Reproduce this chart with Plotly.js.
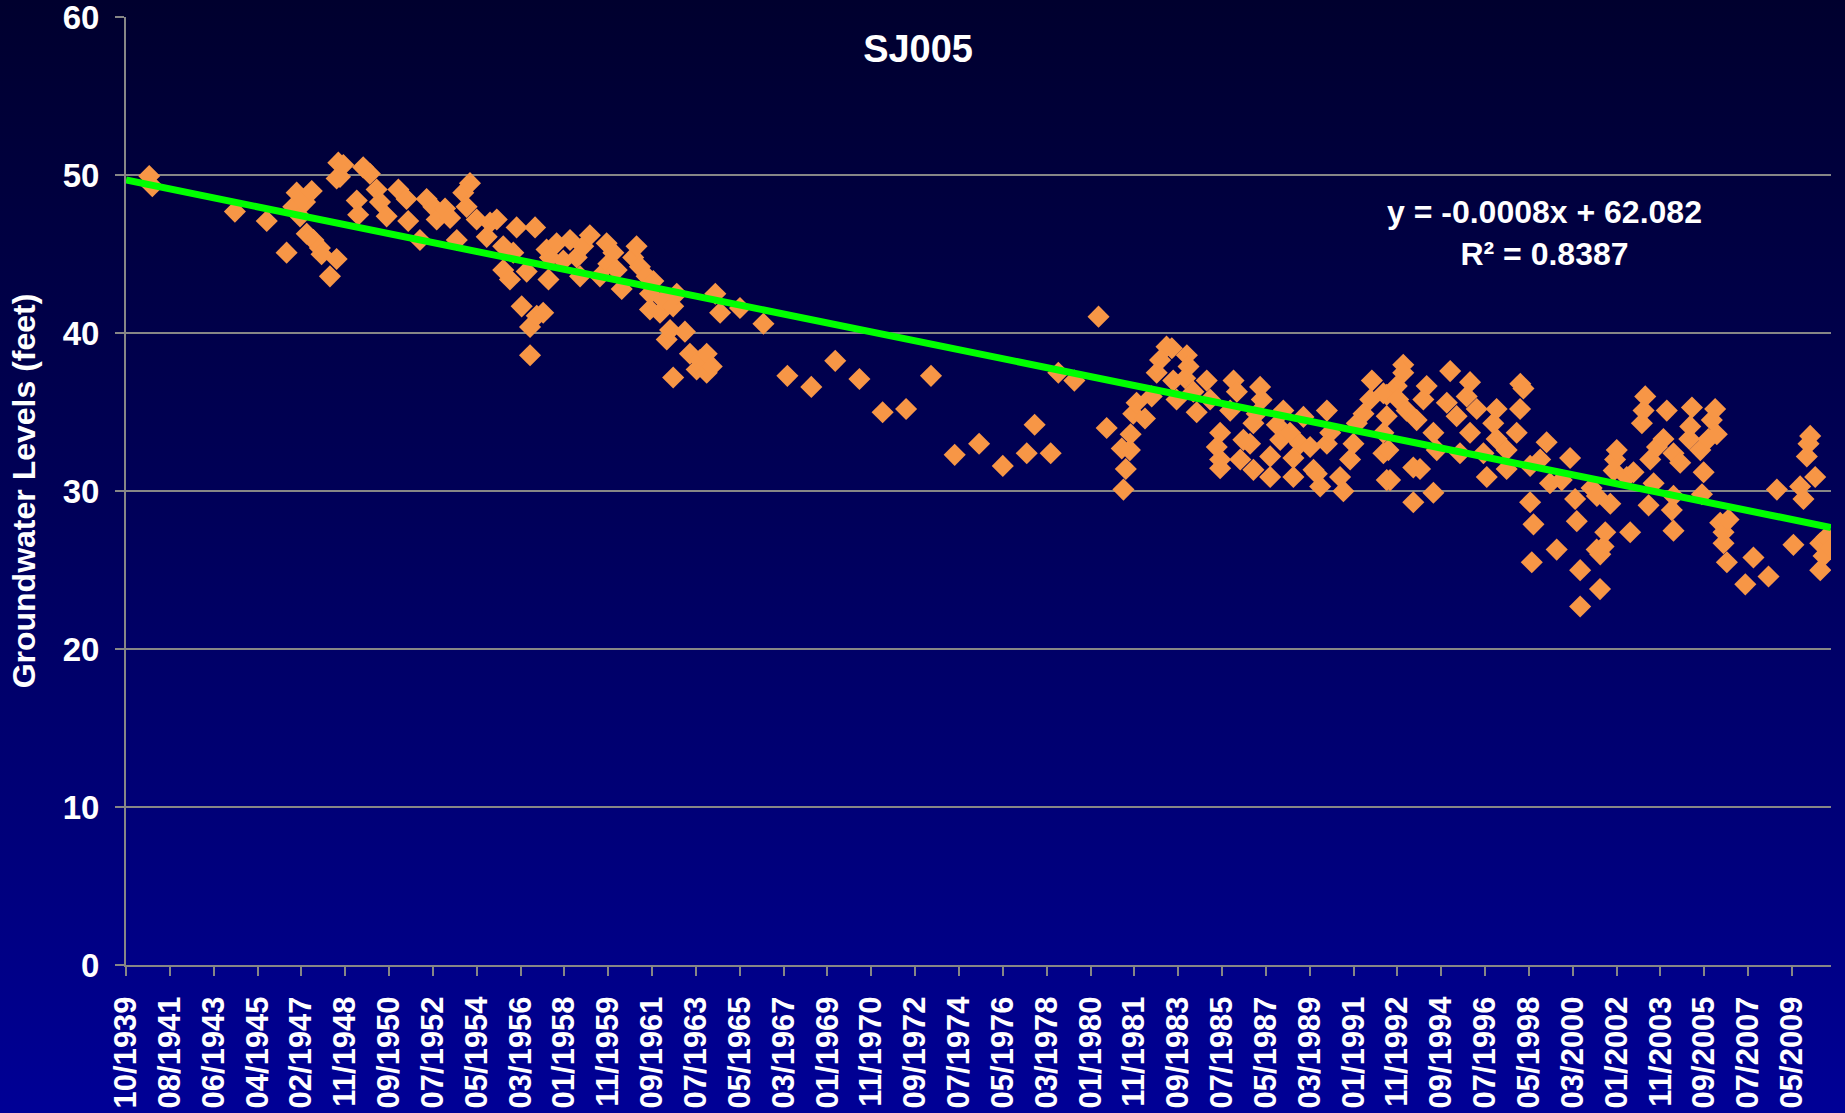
<!DOCTYPE html>
<html>
<head>
<meta charset="utf-8">
<script src="https://cdn.plot.ly/plotly-3.0.1.min.js"></script>
<style>
  html, body { margin: 0; padding: 0; }
  body { width: 1845px; height: 1113px; background: linear-gradient(180deg, #00002e 0%, #000058 45%, #000096 100%); overflow: hidden; }
  #chart { width: 1845px; height: 1113px; }
</style>
</head>
<body>
<div id="chart"></div>
<script>
// Measurement date (decimal year) and groundwater level (feet) for well SJ005
const measYear = [
  1940.72, 1940.85, 1944.30, 1945.63, 1946.46, 1946.74, 1946.88, 1947.02, 1947.23, 1947.30,
  1947.51, 1947.58, 1947.85, 1947.92, 1948.27, 1948.55, 1948.55, 1948.62, 1948.69, 1948.83,
  1949.39, 1949.45, 1949.66, 1949.94, 1950.22, 1950.36, 1950.64, 1951.13, 1951.47, 1951.54,
  1952.03, 1952.31, 1952.59, 1952.73, 1953.08, 1953.29, 1953.57, 1953.84, 1953.98, 1954.12,
  1954.40, 1954.82, 1954.96, 1955.24, 1955.51, 1955.51, 1955.79, 1955.93, 1956.07, 1956.28,
  1956.49, 1956.63, 1956.63, 1956.84, 1956.91, 1957.18, 1957.32, 1957.40, 1957.46, 1957.74,
  1958.02, 1958.30, 1958.58, 1958.72, 1958.85, 1959.13, 1959.55, 1959.83, 1959.90, 1960.11,
  1960.25, 1960.46, 1960.94, 1961.08, 1961.22, 1961.50, 1961.64, 1961.64, 1961.78, 1962.06,
  1962.20, 1962.34, 1962.48, 1962.61, 1962.61, 1962.76, 1963.10, 1963.31, 1963.59, 1963.73,
  1964.01, 1964.01, 1964.22, 1964.37, 1964.57, 1965.40, 1966.38, 1967.38, 1968.38, 1969.38,
  1970.39, 1971.36, 1972.34, 1973.38, 1974.37, 1975.39, 1976.38, 1977.38, 1977.71, 1978.38,
  1978.70, 1979.37, 1980.38, 1980.72, 1981.35, 1981.42, 1981.52, 1981.69, 1981.72, 1981.83,
  1981.97, 1982.32, 1982.60, 1982.81, 1982.95, 1983.22, 1983.44, 1983.50, 1983.64, 1984.00,
  1984.07, 1984.14, 1984.34, 1984.48, 1984.90, 1985.04, 1985.32, 1985.46, 1985.46, 1985.46,
  1985.88, 1986.02, 1986.16, 1986.30, 1986.43, 1986.71, 1986.85, 1986.85, 1986.99, 1987.13,
  1987.20, 1987.55, 1987.55, 1987.83, 1987.97, 1988.10, 1988.38, 1988.52, 1988.52, 1988.80,
  1988.94, 1989.22, 1989.36, 1989.50, 1989.64, 1989.92, 1989.92, 1990.06, 1990.47, 1990.61,
  1990.89, 1991.03, 1991.17, 1991.45, 1991.73, 1991.80, 1992.28, 1992.28, 1992.28, 1992.42,
  1992.42, 1992.42, 1992.49, 1992.56, 1992.84, 1992.90, 1993.11, 1993.11, 1993.25, 1993.53,
  1993.53, 1993.67, 1993.81, 1993.95, 1994.09, 1994.37, 1994.37, 1994.51, 1994.93, 1995.07,
  1995.34, 1995.48, 1995.76, 1995.90, 1995.90, 1996.18, 1996.46, 1996.60, 1996.87, 1997.01,
  1997.01, 1997.43, 1997.43, 1997.85, 1997.99, 1998.00, 1998.13, 1998.41, 1998.41, 1998.48,
  1998.55, 1998.83, 1999.10, 1999.24, 1999.52, 1999.73, 2000.08, 2000.29, 2000.36, 2000.50,
  2000.50, 2000.98, 2001.19, 2001.20, 2001.33, 2001.34, 2001.48, 2001.55, 2001.76, 2001.90,
  2001.96, 2002.03, 2002.45, 2002.59, 2002.73, 2003.08, 2003.15, 2003.22, 2003.36, 2003.43,
  2003.57, 2003.71, 2003.98, 2004.12, 2004.33, 2004.40, 2004.40, 2004.40, 2004.68, 2005.06,
  2005.10, 2005.17, 2005.52, 2005.59, 2005.66, 2005.86, 2006.00, 2006.14, 2006.21, 2006.35,
  2006.49, 2006.49, 2006.63, 2006.70, 2007.40, 2007.74, 2008.37, 2008.72, 2009.41, 2009.69,
  2009.83, 2009.97, 2010.04, 2010.11, 2010.32, 2010.53, 2010.53, 2010.67, 2010.80, 2010.95
];
const levelFeet = [
  49.95, 49.3, 47.7, 47.1, 45.1, 48.0, 48.9, 47.4, 48.3, 46.3,
  49.0, 45.9, 45.4, 45.0, 43.6, 44.7, 49.8, 50.8, 49.9, 50.65,
  48.4, 47.5, 50.5, 50.1, 49.1, 48.3, 47.4, 49.1, 48.5, 47.1,
  45.9, 48.5, 48.0, 47.2, 47.9, 47.3, 45.9, 48.9, 48.0, 49.5,
  47.2, 46.1, 47.0, 47.2, 45.5, 44.0, 43.4, 45.1, 46.7, 41.7,
  43.9, 40.4, 38.6, 46.7, 41.1, 41.3, 45.3, 43.4, 44.8, 45.7,
  44.6, 45.9, 44.8, 43.6, 45.5, 46.2, 43.6, 45.7, 44.4, 45.1,
  44.0, 42.8, 44.8, 45.5, 44.2, 43.6, 42.5, 41.5, 43.3, 41.3,
  42.1, 39.6, 40.2, 41.7, 37.2, 42.5, 40.1, 38.7, 37.7, 38.3,
  38.7, 37.5, 37.9, 42.5, 41.3, 41.6, 40.6, 37.3, 36.6, 38.25,
  37.1, 35.0, 35.2, 37.3, 32.3, 33.0, 31.6, 32.4, 34.2, 32.4,
  37.5, 37.0, 41.05, 34.0, 32.7, 30.1, 31.4, 32.6, 33.6, 34.9,
  35.6, 34.6, 36.0, 37.5, 38.3, 39.15, 39.05, 37.0, 35.8, 37.15,
  38.6, 37.9, 36.3, 35.0, 37.0, 35.8, 32.8, 33.7, 32.0, 31.45,
  35.1, 37.0, 36.3, 32.0, 33.25, 33.0, 34.3, 31.35, 34.9, 36.6,
  35.8, 32.2, 30.9, 34.2, 33.25, 35.1, 33.7, 32.1, 30.9, 33.0,
  34.7, 32.8, 31.35, 31.1, 30.3, 35.1, 33.0, 33.7, 30.9, 30.0,
  32.0, 33.0, 34.3, 34.9, 35.8, 37.0, 36.2, 33.7, 32.4, 30.7,
  36.1, 34.75, 32.6, 30.7, 36.65, 35.8, 38.0, 37.5, 35.1, 31.5,
  29.3, 34.5, 31.4, 35.8, 36.65, 33.7, 29.9, 32.6, 35.6, 37.6,
  34.75, 32.4, 36.0, 36.9, 33.7, 35.2, 32.4, 30.9, 34.3, 35.2,
  33.3, 32.6, 31.4, 33.7, 35.2, 36.8, 36.5, 31.6, 29.3, 25.5,
  27.9, 32.0, 33.1, 30.5, 26.3, 30.7, 32.1, 29.5, 28.1, 25.0,
  22.7, 30.2, 26.3, 29.7, 23.8, 26.0, 26.5, 27.4, 29.2, 31.3,
  32.0, 32.6, 30.9, 27.4, 31.2, 34.3, 35.1, 36.0, 29.1, 32.0,
  30.5, 32.8, 33.3, 35.1, 28.8, 32.4, 29.7, 27.5, 31.8, 33.3,
  34.1, 35.3, 32.6, 29.8, 31.2, 33.3, 34.5, 35.2, 33.6, 28.0,
  27.4, 26.7, 25.5, 28.2, 24.1, 25.8, 24.6, 30.1, 26.6, 30.3,
  29.5, 32.2, 33.0, 33.5, 30.9, 26.7, 25.0, 25.9, 27.1, 26.4
];
// Linear trend line end points (as drawn in the chart)
const trendYear = [1939.75, 2010.98];
const trendLevel = [49.7, 27.7];
// Tick labels of the date axis
const tickLabels = [
  '10/1939','08/1941','06/1943','04/1945','02/1947','11/1948','09/1950','07/1952','05/1954',
  '03/1956','01/1958','11/1959','09/1961','07/1963','05/1965','03/1967','01/1969','11/1970',
  '09/1972','07/1974','05/1976','03/1978','01/1980','11/1981','09/1983','07/1985','05/1987',
  '03/1989','01/1991','11/1992','09/1994','07/1996','05/1998','03/2000','01/2002','11/2003',
  '09/2005','07/2007','05/2009'
];
const tickStart = 1939.75, tickStep = 1.8316;
const tickVals = tickLabels.map((_, i) => tickStart + i * tickStep);
const levelTicks = [0, 10, 20, 30, 40, 50, 60];

const FONT = 'Liberation Sans, Arial, Helvetica, sans-serif';

const data = [
  {
    type: 'scatter', mode: 'markers', x: measYear, y: levelFeet, name: 'SJ005',
    marker: { symbol: 'diamond', size: 17, color: '#F79646', line: { width: 0 } },
    hoverinfo: 'x+y'
  },
  {
    type: 'scatter', mode: 'lines', x: trendYear, y: trendLevel, name: 'Linear trend',
    line: { color: '#00FF00', width: 7 }, hoverinfo: 'skip'
  }
];

const layout = {
  width: 1845, height: 1113,
  paper_bgcolor: 'rgba(0,0,0,0)', plot_bgcolor: 'rgba(0,0,0,0)',
  showlegend: false,
  margin: { l: 126, r: 14, t: 17, b: 148, pad: 0 },
  font: { family: FONT, color: '#FFFFFF', size: 30, weight: 'bold' },
  title: {
    text: 'SJ005', x: 0.4976, xanchor: 'center', y: 0.956, yanchor: 'middle',
    font: { family: FONT, size: 38, color: '#FFFFFF', weight: 'bold' }
  },
  xaxis: {
    type: 'linear', range: [1939.75, 2010.98], autorange: false,
    tickmode: 'array', tickvals: tickVals, ticktext: tickLabels,
    tickangle: -90, ticks: 'outside', ticklen: 9, tickwidth: 2, tickcolor: '#868686',
    ticklabelstandoff: 8, ticklabeloverflow: 'allow',
    tickfont: { family: FONT, size: 31, color: '#FFFFFF', weight: 'bold' },
    showline: true, linecolor: '#868686', linewidth: 2,
    showgrid: false, zeroline: false, automargin: false
  },
  yaxis: {
    range: [0, 60.02], autorange: false, tickmode: 'array', tickvals: levelTicks,
    ticks: 'outside', ticklen: 9, tickwidth: 2, tickcolor: '#868686',
    ticklabelstandoff: 9, ticklabeloverflow: 'allow',
    tickfont: { family: FONT, size: 33, color: '#FFFFFF', weight: 'bold' },
    showline: true, linecolor: '#868686', linewidth: 2,
    showgrid: true, gridcolor: '#868686', gridwidth: 2, zeroline: false,
    automargin: false,
    title: { text: 'Groundwater Levels (feet)', standoff: 17,
             font: { family: FONT, size: 32, color: '#FFFFFF', weight: 'bold' } }
  },
  annotations: [
    {
      xref: 'paper', yref: 'paper', x: 0.832, y: 0.7725, xanchor: 'center', yanchor: 'middle',
      text: 'y = -0.0008x + 62.082<br>R² = 0.8387', showarrow: false, align: 'center',
      font: { family: FONT, size: 32, color: '#FFFFFF', weight: 'bold' }
    }
  ]
};

Plotly.newPlot('chart', data, layout, { displayModeBar: false, staticPlot: true });
</script>
</body>
</html>
